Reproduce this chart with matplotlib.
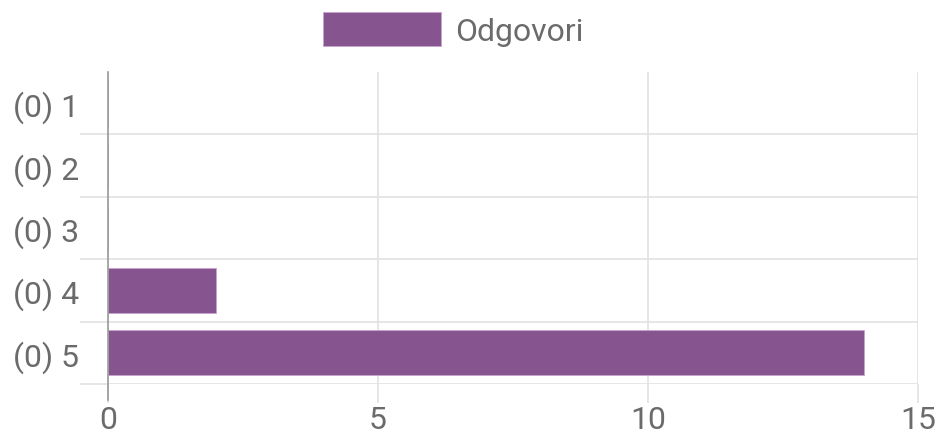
import matplotlib
matplotlib.use("Agg")
import matplotlib.pyplot as plt
from matplotlib.patches import Patch
from matplotlib.ticker import FixedLocator

categories = ["(0) 1", "(0) 2", "(0) 3", "(0) 4", "(0) 5"]
values = [0, 0, 0, 2, 14]
series_name = "Odgovori"
x_ticks = [0, 5, 10, 15]

bar_color = "#86548f"
text_color = "#6b6b6b"
grid_color = "#e2e2e2"
axis_color = "#9a9a9a"

plt.rcParams['font.family'] = ['Roboto', 'DejaVu Sans']

fig = plt.figure(figsize=(9.36, 4.39), dpi=100)
ax = fig.add_axes([108/936, 1 - 385/439, (918-108)/936, (385-73)/439])

ypos = list(range(len(categories)))
ax.barh(ypos, values, height=0.72, color=bar_color, edgecolor="#c9a3cf", linewidth=0.6, zorder=3)

ax.set_xlim(0, 15)
ax.set_ylim(len(categories) - 0.5, -0.5)

ax.set_yticks(ypos)
ax.set_yticklabels(categories)
ax.yaxis.set_minor_locator(FixedLocator([i + 0.5 for i in ypos]))
ax.tick_params(axis='y', which='major', length=0, pad=21, labelsize=23, labelcolor=text_color)
ax.tick_params(axis='y', which='minor', length=20, width=1.2, color=grid_color)

ax.set_xticks(x_ticks)
ax.tick_params(axis='x', which='major', length=14, width=1.2, color=grid_color, pad=1,
               labelsize=23, labelcolor=text_color)

ax.grid(axis='x', which='major', color=grid_color, linewidth=1.2, zorder=0)
ax.grid(axis='y', which='minor', color=grid_color, linewidth=1.2, zorder=0)

for s in ['top', 'right', 'bottom']:
    ax.spines[s].set_visible(False)
ax.spines['left'].set_visible(False)
# value axis baseline at zero, extending down over the tick mark
ax.axvline(x_ticks[0], ymin=-0.05, ymax=1, color=axis_color, linewidth=1.2,
           clip_on=False, zorder=4)

handle = Patch(facecolor=bar_color, edgecolor="#c9a3cf", linewidth=0.6)
fig.legend([handle], [series_name], loc='upper center', bbox_to_anchor=(0.484, 1.035),
           frameon=False, fontsize=23, handlelength=3.7, handleheight=1.25,
           handletextpad=0.45, labelcolor=text_color)

fig.savefig("out.png", dpi=100)
